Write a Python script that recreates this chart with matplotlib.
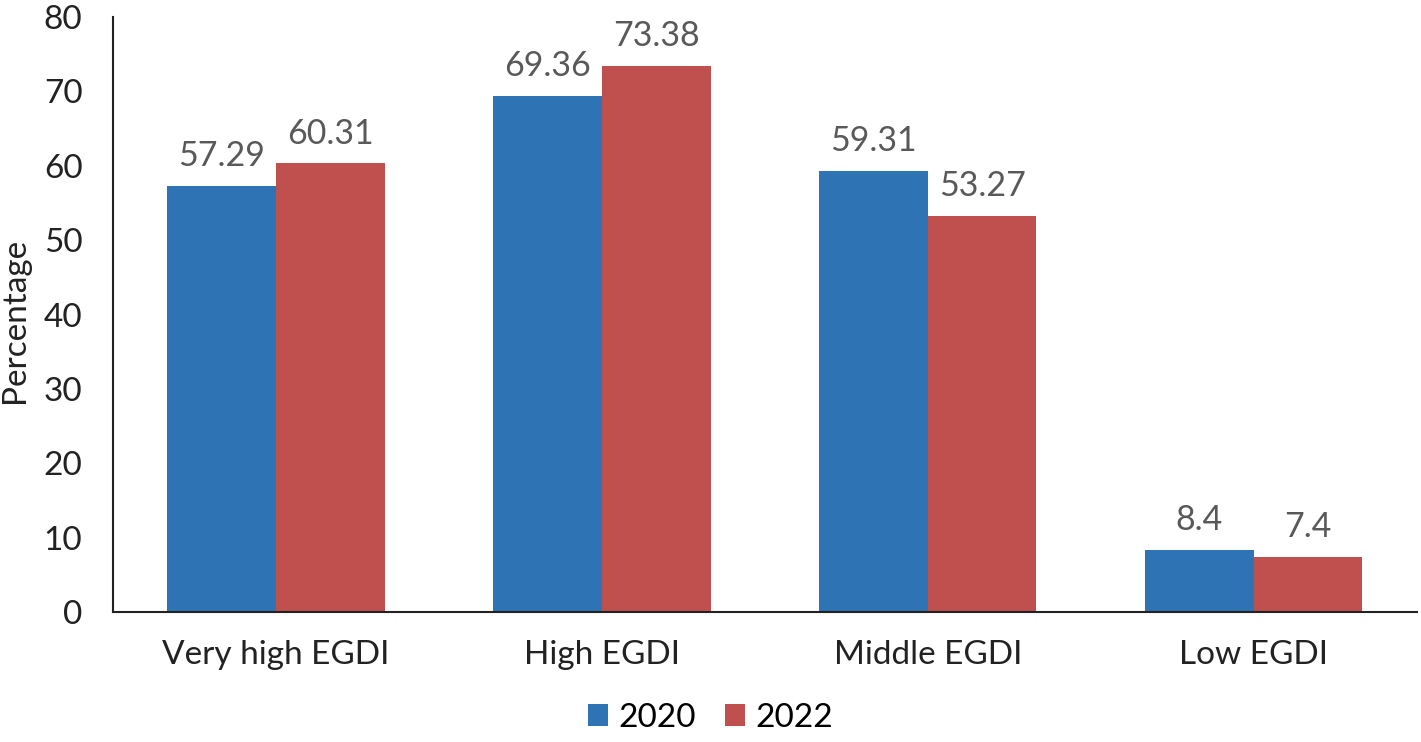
import numpy as np
import matplotlib.pyplot as plt

# data
categories = ["Very high EGDI", "High EGDI", "Middle EGDI", "Low EGDI"]
years = ["2020", "2022"]
vals_2020 = [57.29, 69.36, 59.31, 8.4]
vals_2022 = [60.31, 73.38, 53.27, 7.4]

plt.rcParams["font.family"] = ["Lato", "DejaVu Sans"]

fig = plt.figure(figsize=(14.21, 7.42), dpi=100)
ax = fig.add_axes([0.0795, 0.1752, 0.9175, 0.8018])

x = np.arange(len(categories))
w = 1 / 3
b1 = ax.bar(x - w / 2, vals_2020, w, color="#2E74B5", label=years[0])
b2 = ax.bar(x + w / 2, vals_2022, w, color="#C0504D", label=years[1])

# value labels
for bars, vals in ((b1, vals_2020), (b2, vals_2022)):
    for r, v in zip(bars, vals):
        ax.annotate(f"{v:g}", (r.get_x() + r.get_width() / 2, v),
                    xytext=(0, 10), textcoords="offset points",
                    ha="center", va="bottom", fontsize=24.5, color="#595959")

ax.set_xlim(-0.5, 3.5)
ax.set_ylim(0, 80)
ax.set_yticks(range(0, 81, 10))
ax.set_xticks(x)
ax.set_xticklabels(categories)
ax.tick_params(axis="both", length=0, labelsize=24, colors="#222222")
ax.tick_params(axis="x", pad=20)
ax.tick_params(axis="y", pad=22)

for s in ("top", "right"):
    ax.spines[s].set_visible(False)
for s in ("left", "bottom"):
    ax.spines[s].set_color("#222222")
    ax.spines[s].set_linewidth(1.5)

ax.set_ylabel("Percentage", fontsize=24, color="#222222")
ax.yaxis.set_label_coords(-0.0635, 0.49)

fig.legend(handles=[b1, b2], labels=years, loc="lower center",
           bbox_to_anchor=(0.5, -0.028), ncol=2, frameon=False,
           fontsize=24, handlelength=0.6, handleheight=0.6,
           handletextpad=0.3, columnspacing=0.9)

fig.savefig("out.png", dpi=100)
